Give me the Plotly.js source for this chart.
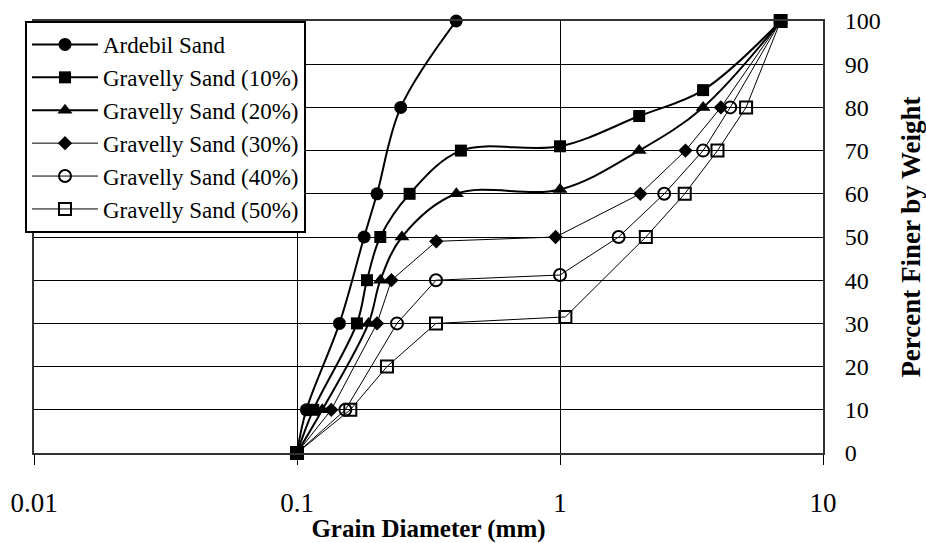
<!DOCTYPE html>
<html>
<head>
<meta charset="utf-8">
<script src="https://cdn.plot.ly/plotly-3.0.1.min.js"></script>
<style>
html,body{margin:0;padding:0;background:#fff;}
#chart{width:926px;height:543px;}
</style>
</head>
<body>
<div id="chart"></div>
<script>
// Grain diameter (mm) and percent finer for each sample
const ardebilX = [0.1, 0.1085, 0.145, 0.180, 0.2015, 0.248, 0.403];
const ardebilY = [0, 10, 30, 50, 60, 80, 100];

const g10X = [0.1, 0.1153, 0.169, 0.1845, 0.2073, 0.268, 0.420, 1.0, 2.0, 3.5, 6.9];
const g10Y = [0, 10, 30, 40, 50, 60, 70, 71, 78, 84, 100];

const g20X = [0.1, 0.1248, 0.187, 0.2075, 0.2506, 0.4035, 1.0, 2.0, 3.5, 6.9];
const g20Y = [0, 10, 30, 40, 50, 60, 61, 70, 80, 100];

const g30X = [0.1, 0.135, 0.2015, 0.2286, 0.3386, 0.962, 2.02, 3.0, 4.09, 6.9];
const g30Y = [0, 10, 30, 40, 49, 50, 60, 70, 80, 100];

const g40X = [0.1, 0.1527, 0.240, 0.3377, 1.0, 1.671, 2.49, 3.50, 4.44, 6.9];
const g40Y = [0, 10, 30, 40, 41.2, 50, 60, 70, 80, 100];

const g50X = [0.1, 0.1595, 0.2198, 0.3377, 1.048, 2.12, 2.98, 3.97, 5.10, 6.9];
const g50Y = [0, 10, 20, 30, 31.5, 50, 60, 70, 80, 100];

const seriesNames = ['Ardebil Sand', 'Gravelly Sand (10%)', 'Gravelly Sand (20%)',
  'Gravelly Sand (30%)', 'Gravelly Sand (40%)', 'Gravelly Sand (50%)'];

const xTickVals = [0.01, 0.1, 1, 10];
const xTickText = ['0.01', '0.1', '1', '10'];
const yTickVals = [0, 10, 20, 30, 40, 50, 60, 70, 80, 90, 100];

const serif = 'Liberation Serif, Times New Roman, serif';

function tr(x, y, name, symbol, size, lw, shape) {
  return {
    x: x, y: y, name: name, type: 'scatter', mode: 'lines+markers',
    line: {color: '#000', width: lw, shape: shape, smoothing: 1},
    marker: {symbol: symbol, size: size, color: '#000', line: {color: '#000', width: symbol.indexOf('open') >= 0 ? 2 : 0}},
    cliponaxis: false
  };
}

const data = [
  tr(ardebilX, ardebilY, seriesNames[0], 'circle', 13, 2, 'spline'),
  tr(g10X, g10Y, seriesNames[1], 'square', 12, 2, 'spline'),
  tr(g20X, g20Y, seriesNames[2], 'triangle-up', 13, 2, 'spline'),
  tr(g30X, g30Y, seriesNames[3], 'diamond', 11, 1, 'linear'),
  tr(g40X, g40Y, seriesNames[4], 'circle-open', 12, 1, 'linear'),
  tr(g50X, g50Y, seriesNames[5], 'square-open', 12, 1, 'linear')
];

const layout = {
  width: 926, height: 543,
  margin: {l: 34, r: 103, t: 21, b: 90, pad: 0},
  paper_bgcolor: '#fff', plot_bgcolor: '#fff',
  font: {family: serif, color: '#000'},
  showlegend: true,
  legend: {
    x: -0.0114, y: 1, xanchor: 'left', yanchor: 'top',
    bgcolor: '#fff', bordercolor: '#000', borderwidth: 2,
    font: {family: serif, size: 23, color: '#000'},
    itemwidth: 66, tracegroupgap: 0
  },
  xaxis: {
    type: 'log', range: [-2, 1],
    tickvals: xTickVals, ticktext: xTickText,
    ticks: 'outside', ticklen: 10, tickwidth: 1, tickcolor: '#000',
    ticklabelstandoff: 15,
    tickfont: {family: serif, size: 27, color: '#000'},
    showgrid: true, gridcolor: '#000', gridwidth: 1,
    showline: true, linecolor: '#333', linewidth: 2, mirror: true,
    zeroline: false,
    title: {text: '<b>Grain Diameter (mm)</b>', font: {family: serif, size: 25, color: '#000'}, standoff: 6}
  },
  yaxis: {
    side: 'right', range: [0, 100],
    tickvals: yTickVals,
    ticks: '', ticklabelstandoff: 15,
    tickfont: {family: serif, size: 24, color: '#000'},
    showgrid: true, gridcolor: '#000', gridwidth: 1,
    showline: true, linecolor: '#333', linewidth: 2, mirror: true,
    zeroline: false,
    title: {text: '<b>Percent Finer by Weight</b>', font: {family: serif, size: 27, color: '#000'}, standoff: 22}
  }
};

Plotly.newPlot('chart', data, layout, {displayModeBar: false, staticPlot: true});
</script>
</body>
</html>
